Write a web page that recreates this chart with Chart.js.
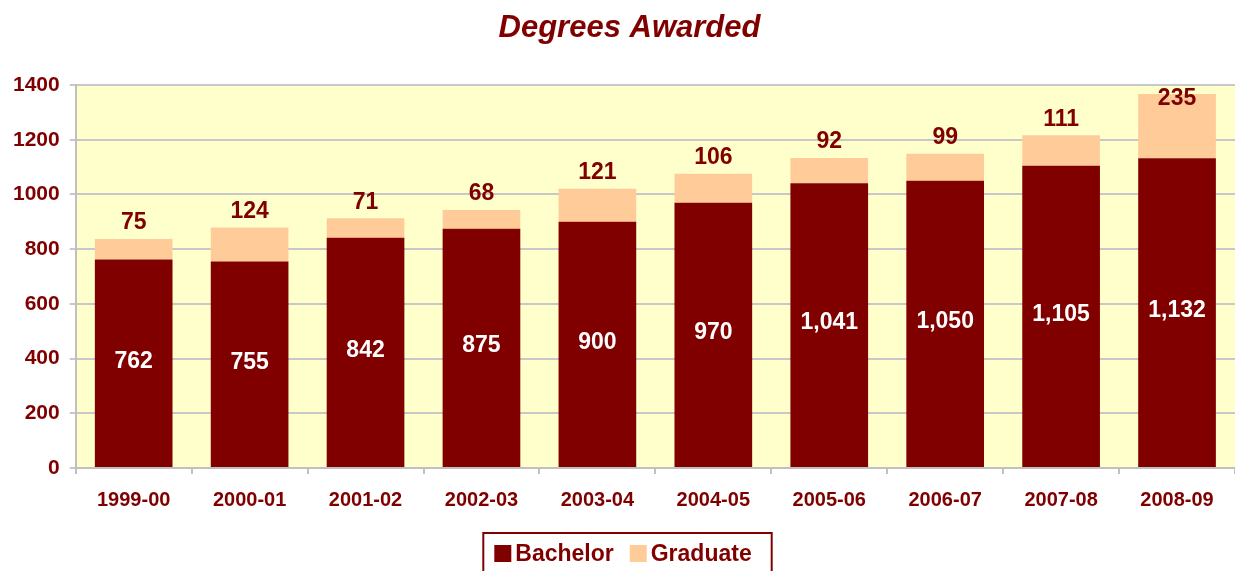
<!DOCTYPE html>
<html>
<head>
<meta charset="utf-8">
<script src="https://cdn.jsdelivr.net/npm/chart.js@4.4.1/dist/chart.umd.min.js"></script>
<style>
  html, body { margin: 0; padding: 0; background: #fff; }
  #wrap { width: 1235px; height: 571px; }
</style>
</head>
<body>
<div id="wrap"><canvas id="degreesChart"></canvas></div>
<script>
const years = ['1999-00', '2000-01', '2001-02', '2002-03', '2003-04', '2004-05', '2005-06', '2006-07', '2007-08', '2008-09'];
const bachelor = [762, 755, 842, 875, 900, 970, 1041, 1050, 1105, 1132];
const graduate = [75, 124, 71, 68, 121, 106, 92, 99, 111, 235];
const yTicks = [0, 200, 400, 600, 800, 1000, 1200, 1400];
const chartTitle = 'Degrees Awarded';

const maroon = '#800000';
const peach = '#FFCC99';
const fontName = '"Liberation Sans", Arial, sans-serif';

// yellow plot area
const plotBg = {
  id: 'plotBg',
  beforeDraw(chart) {
    const { ctx, chartArea: a } = chart;
    ctx.save();
    ctx.fillStyle = '#FFFFCC';
    ctx.fillRect(a.left, a.top, a.right - a.left, a.bottom - a.top);
    ctx.restore();
  }
};

// title, sitting a little right of the canvas centre like the original
const titleText = {
  id: 'titleText',
  afterDraw(chart) {
    const { ctx, width } = chart;
    ctx.save();
    ctx.font = 'italic bold 31px ' + fontName;
    ctx.fillStyle = maroon;
    ctx.textAlign = 'center';
    ctx.textBaseline = 'middle';
    ctx.fillText(chartTitle, width / 2 + 12, 28);
    ctx.restore();
  }
};

// value labels: bachelor inside bar, graduate above the stack
const valueLabels = {
  id: 'valueLabels',
  afterDatasetsDraw(chart) {
    const { ctx, chartArea } = chart;
    ctx.save();
    ctx.textAlign = 'center';
    ctx.textBaseline = 'middle';
    ctx.font = 'bold 23px ' + fontName;
    chart.getDatasetMeta(0).data.forEach((bar, i) => {
      ctx.fillStyle = '#ffffff';
      ctx.fillText(bachelor[i].toLocaleString('en-US'), bar.x, (bar.y + bar.base) / 2 - 2);
    });
    chart.getDatasetMeta(1).data.forEach((bar, i) => {
      ctx.fillStyle = maroon;
      const y = Math.max(bar.y - 16, chartArea.top + 14);
      ctx.fillText(graduate[i].toLocaleString('en-US'), bar.x, y);
    });
    ctx.restore();
  }
};

// boxed legend under the axis
const boxedLegend = {
  id: 'boxedLegend',
  afterDraw(chart) {
    const { ctx, width } = chart;
    const sets = chart.data.datasets;
    ctx.save();
    ctx.font = 'bold 23px ' + fontName;
    const widths = sets.map(ds => ctx.measureText(ds.label).width);
    const total = 11 + sets.length * 21 + widths.reduce((a, b) => a + b, 0) + (sets.length - 1) * 16 + 20;
    const left = width / 2 + 10 - total / 2;
    ctx.strokeStyle = maroon;
    ctx.lineWidth = 2;
    ctx.strokeRect(left, 533, total, 60);
    let x = left + 11;
    ctx.textBaseline = 'middle';
    ctx.textAlign = 'left';
    sets.forEach((ds, i) => {
      ctx.fillStyle = ds.backgroundColor;
      ctx.fillRect(x, 545, 17, 17);
      ctx.fillStyle = maroon;
      ctx.fillText(ds.label, x + 21, 555);
      x += 21 + widths[i] + 16;
    });
    ctx.restore();
  }
};

new Chart(document.getElementById('degreesChart'), {
  type: 'bar',
  data: {
    labels: years,
    datasets: [
      { label: 'Bachelor', data: bachelor, backgroundColor: maroon, barPercentage: 0.67, categoryPercentage: 1 },
      { label: 'Graduate', data: graduate, backgroundColor: peach, barPercentage: 0.67, categoryPercentage: 1 }
    ]
  },
  options: {
    responsive: true,
    maintainAspectRatio: false,
    animation: false,
    layout: { padding: { left: 3, right: 0, top: 85, bottom: 45 } },
    plugins: {
      title: { display: false },
      legend: { display: false },
      tooltip: { enabled: false }
    },
    scales: {
      x: {
        stacked: true,
        offset: true,
        border: { color: '#c0c0c0', width: 2 },
        grid: { offset: true, drawOnChartArea: false, drawTicks: true, tickLength: 6, color: '#c0c0c0', lineWidth: 2 },
        ticks: { color: maroon, font: { family: fontName, size: 20, weight: 'bold' }, padding: 14, maxRotation: 0 }
      },
      y: {
        stacked: true,
        min: 0,
        max: 1400,
        afterBuildTicks(axis) { axis.ticks = yTicks.map(v => ({ value: v })); },
        border: { color: '#c0c0c0', width: 2 },
        grid: { color: '#c8c8c8', lineWidth: 2, tickLength: 6 },
        ticks: { color: maroon, font: { family: fontName, size: 21, weight: 'bold' }, padding: 10, callback: v => String(v) }
      }
    }
  },
  plugins: [plotBg, titleText, valueLabels, boxedLegend]
});
</script>
</body>
</html>
